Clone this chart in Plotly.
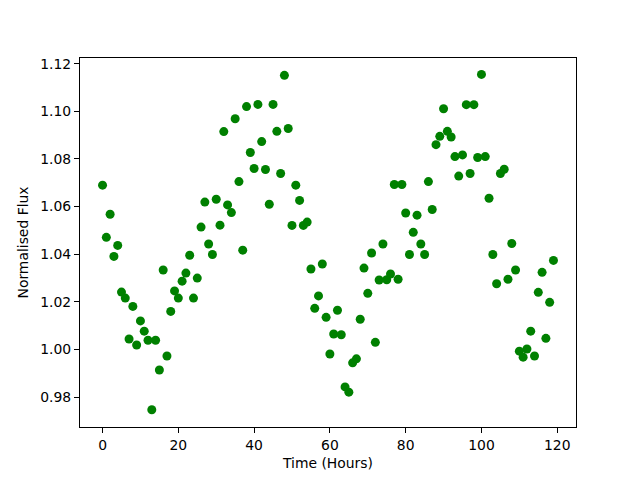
import plotly.graph_objects as go

hours = list(range(120))
flux = [
    1.0690, 1.0471, 1.0568, 1.0391, 1.0437, 1.0241, 1.0216, 1.0044, 1.0181, 1.0019,
    1.0120, 1.0077, 1.0039, 0.9747, 1.0039, 0.9914, 1.0334, 0.9973, 1.0160, 1.0246,
    1.0216, 1.0287, 1.0321, 1.0396, 1.0216, 1.0300, 1.0514, 1.0619, 1.0443, 1.0399,
    1.0631, 1.0522, 1.0915, 1.0607, 1.0575, 1.0969, 1.0705, 1.0417, 1.1020, 1.0827,
    1.0760, 1.1029, 1.0873, 1.0756, 1.0610, 1.1029, 1.0916, 1.0739, 1.1151, 1.0928,
    1.0521, 1.0690, 1.0626, 1.0521, 1.0535, 1.0338, 1.0173, 1.0225, 1.0359, 1.0135,
    0.9981, 1.0065, 1.0165, 1.0062, 0.9843, 0.9821, 0.9944, 0.9961, 1.0127, 1.0342,
    1.0236, 1.0405, 1.0030, 1.0292, 1.0443, 1.0293, 1.0317, 1.0693, 1.0295, 1.0693,
    1.0573, 1.0399, 1.0492, 1.0564, 1.0443, 1.0399, 1.0705, 1.0588, 1.0860, 1.0895,
    1.1011, 1.0916, 1.0892, 1.0810, 1.0728, 1.0817, 1.1028, 1.0739, 1.1028, 1.0806,
    1.1155, 1.0810, 1.0635, 1.0399, 1.0276, 1.0739, 1.0757, 1.0295, 1.0445, 1.0334,
    0.9993, 0.9968, 1.0002, 1.0077, 0.9973, 1.0240, 1.0324, 1.0047, 1.0198, 1.0374,
]

x_ticks = [0, 20, 40, 60, 80, 100, 120]
y_ticks = [0.98, 1.00, 1.02, 1.04, 1.06, 1.08, 1.10, 1.12]

fig = go.Figure()
fig.add_trace(go.Scatter(
    x=hours, y=flux, mode="markers",
    marker=dict(color="#008000", size=9, line=dict(width=0)),
    showlegend=False,
))

font = dict(family="DejaVu Sans", size=13.9, color="black")
axis_common = dict(
    showline=True, linecolor="black", linewidth=1.1, mirror=True,
    ticks="outside", ticklen=5, tickwidth=1.1, tickcolor="black",
    showgrid=False, zeroline=False, tickfont=font, automargin=False,
)
fig.update_layout(
    width=632, height=472,
    margin=dict(l=72, r=64, t=50, b=53, pad=0),
    paper_bgcolor="white", plot_bgcolor="white",
    font=font,
    xaxis=dict(range=[-5.95, 124.95], tickvals=x_ticks,
               ticktext=[str(v) for v in x_ticks],
               title=dict(text="Time (Hours)", font=font, standoff=6),
               **axis_common),
    yaxis=dict(range=[0.96747, 1.12239], tickvals=y_ticks,
               ticktext=[f"{v:.2f}" for v in y_ticks],
               title=dict(text="Normalised Flux", font=font, standoff=8),
               **axis_common),
)
fig.write_html("out.html")
